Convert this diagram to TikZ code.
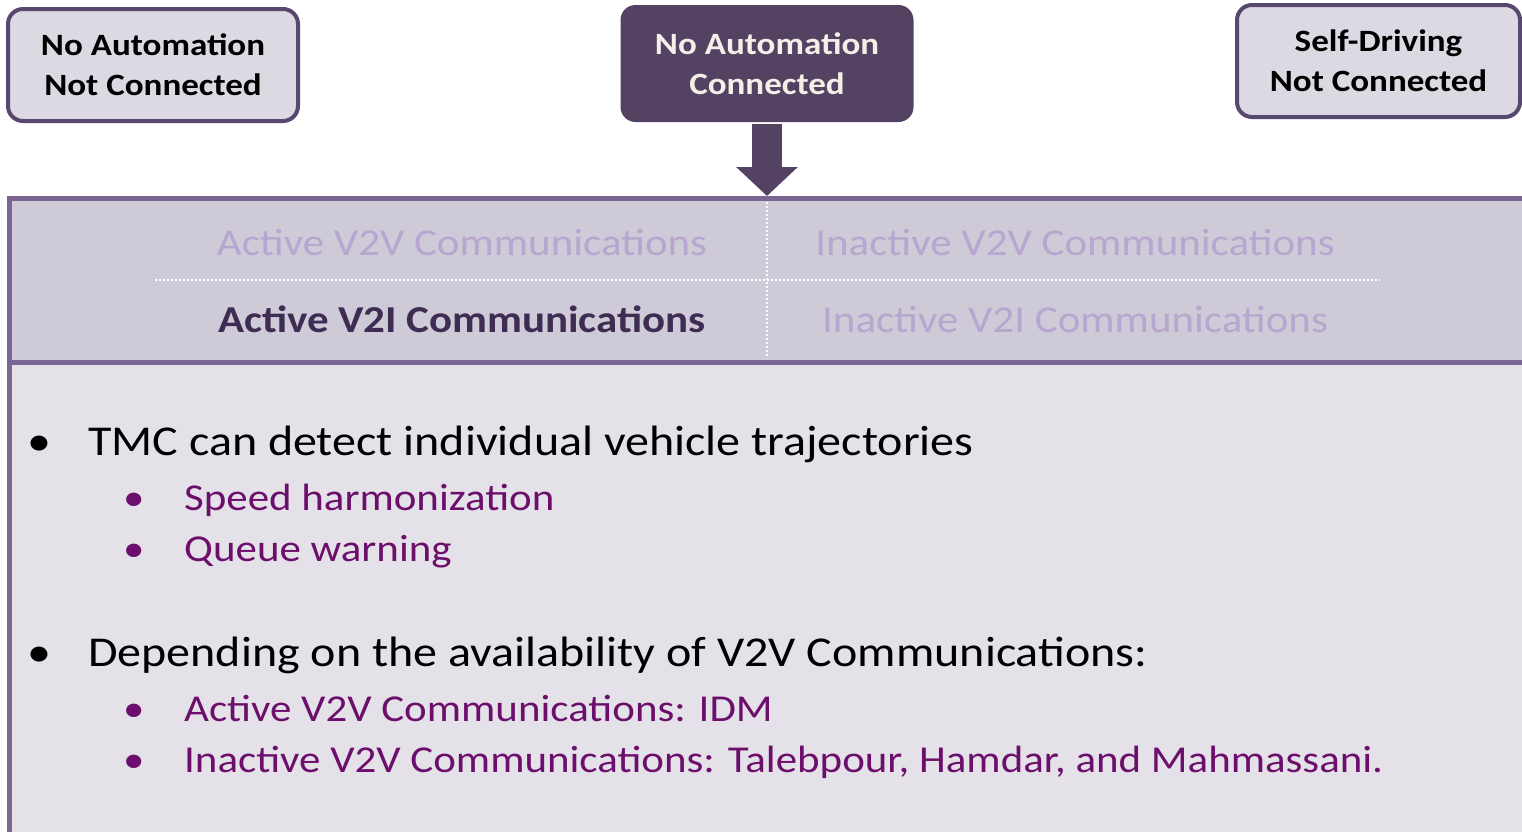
\documentclass[tikz,border=0pt]{standalone}
\usepackage{fontspec}
\setmainfont{Carlito}[FakeStretch=1.13]
\usetikzlibrary{positioning,arrows.meta}
\definecolor{boxfill}{HTML}{DCD9E2}
\definecolor{boxline}{HTML}{584870}
\definecolor{darkbox}{HTML}{534262}
\definecolor{darktext}{HTML}{F2F0E8}
\definecolor{paneline}{HTML}{7B6592}
\definecolor{headfill}{HTML}{CECAD7}
\definecolor{bodyfill}{HTML}{E4E1E8}
\definecolor{fadetext}{HTML}{B7A6CF}
\definecolor{activetext}{HTML}{3E2C52}
\definecolor{subtext}{HTML}{6C0F6C}
\tikzset{level node/.style={rectangle,rounded corners=15pt,fill=boxfill,draw=boxline,line width=4pt,
    minimum height=112pt,align=center,inner sep=0pt,font=\bfseries\fontsize{31}{40}\selectfont},
  chosen node/.style={level node,fill=darkbox,draw=none,text=darktext},
  head text/.style={anchor=base,inner sep=0pt,text=fadetext,font=\fontsize{38}{46}\selectfont},
  main item/.style={anchor=base west,inner sep=0pt,text=black,font=\fontsize{42.5}{50}\selectfont},
  sub item/.style={anchor=base west,inner sep=0pt,text=subtext,font=\fontsize{38}{48}\selectfont},}

\begin{document}
\begin{tikzpicture}[x=1pt,y=-1pt]
    \useasboundingbox (0,0) rectangle (1522,831);
    \clip (0,0) rectangle (1522,831);

    % panel
    \fill[headfill] (9,198) rectangle (1540,362);
    \fill[bodyfill] (9,362) rectangle (1540,850);
    \draw[paneline,line width=5pt] (9,850) -- (9,198) -- (1540,198);
    \draw[paneline,line width=5pt] (9,362) -- (1540,362);
    \draw[white,dotted,line width=2pt] (155,280) -- (1380,280);
    \draw[white,dotted,line width=2pt] (767,202) -- (767,358);

    % top boxes
    \node[level node,minimum width=290pt] (1) at (153,65) {No Automation\\Not Connected};
    \node[chosen node,minimum width=293pt,minimum height=117pt] (2) at (767,63.5) {No Automation\\Connected};
    \node[level node,minimum width=283pt] (3) at (1378.5,61) {Self-Driving\\Not Connected};
    \coordinate (tip) at (767,196);
    \draw[darkbox,line width=30pt,-{Triangle[width=60pt,length=29pt]}] (2.south) -- (tip);

    % header
    \node[head text] (v2va) at (462,255) {Active V2V Communications};
    \node[head text,text=activetext,font=\bfseries\fontsize{38}{46}\selectfont] (v2ia) at (462,332) {Active V2I Communications};
    \node[head text] (v2vi) at (1075,255) {Inactive V2V Communications};
    \node[head text] (v2ii) at (1075,332) {Inactive V2I Communications};

    % bullets
    \node[main item] (m1) at (27,455) {\makebox[61pt][l]{\textbullet}TMC can detect individual vehicle trajectories};
    \node[sub item] (s1) at (123,510) {\makebox[61pt][l]{\textbullet}Speed harmonization};
    \node[sub item] (s2) at (123,561) {\makebox[61pt][l]{\textbullet}Queue warning};
    \node[main item] (m2) at (27,666) {\makebox[61pt][l]{\textbullet}Depending on the availability of V2V Communications:};
    \node[sub item] (s3) at (123,721) {\makebox[61pt][l]{\textbullet}Active V2V Communications: IDM};
    \node[sub item] (s4) at (123,772) {\makebox[61pt][l]{\textbullet}Inactive V2V Communications: Talebpour, Hamdar, and Mahmassani.};
\end{tikzpicture}
\end{document}
